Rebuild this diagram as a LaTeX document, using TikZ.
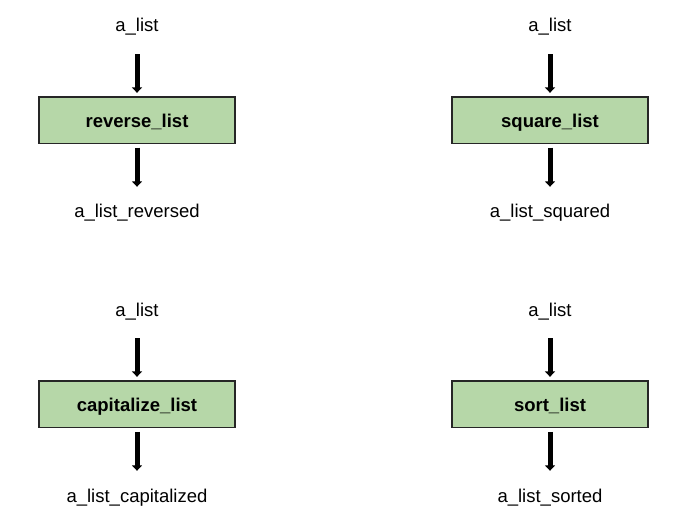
\documentclass[tikz,border=0pt]{standalone}
\usepackage{fontspec}
\setmainfont{Liberation Sans}
\usetikzlibrary{arrows.meta}
\definecolor{boxgreen}{HTML}{B6D7A8}
\tikzset{
  lbl/.style={inner sep=0pt, text height=15.5bp, text depth=1.5bp, font=\fontsize{18.5bp}{20bp}\selectfont},
  fbox/.style={draw=black!85, line width=1.4bp, fill=boxgreen, minimum width=196bp, minimum height=46.5bp, inner sep=0pt, text height=15.5bp, text depth=1.5bp, font=\fontsize{18.5bp}{20bp}\selectfont\bfseries},
  arr/.style={line width=5bp, -{Triangle[width=10bp,length=5.5bp]}},
  inarr/.style={arr, shorten <=20.5bp, shorten >=3.5bp},
  outarr/.style={arr, shorten <=3.5bp, shorten >=15.5bp}
}
\begin{document}
\begin{tikzpicture}[x=1bp,y=-1bp]
\useasboundingbox (0,0) rectangle (682,525);
% top-left
\node[lbl] (in1) at (137,25) {a\_list};
\node[fbox] (f1) at (137,120.3) {reverse\_list};
\node[lbl] (out1) at (137,211) {a\_list\_reversed};
\draw[inarr] (in1) -- (f1);
\draw[outarr] (f1) -- (out1);
% top-right
\node[lbl] (in2) at (550,25) {a\_list};
\node[fbox] (f2) at (550,120.3) {square\_list};
\node[lbl] (out2) at (550,211) {a\_list\_squared};
\draw[inarr] (in2) -- (f2);
\draw[outarr] (f2) -- (out2);
% bottom-left
\node[lbl] (in3) at (137,309) {a\_list};
\node[fbox] (f3) at (137,404.3) {capitalize\_list};
\node[lbl] (out3) at (137,495) {a\_list\_capitalized};
\draw[inarr] (in3) -- (f3);
\draw[outarr] (f3) -- (out3);
% bottom-right
\node[lbl] (in4) at (550,309) {a\_list};
\node[fbox] (f4) at (550,404.3) {sort\_list};
\node[lbl] (out4) at (550,495) {a\_list\_sorted};
\draw[inarr] (in4) -- (f4);
\draw[outarr] (f4) -- (out4);
\end{tikzpicture}
\end{document}
